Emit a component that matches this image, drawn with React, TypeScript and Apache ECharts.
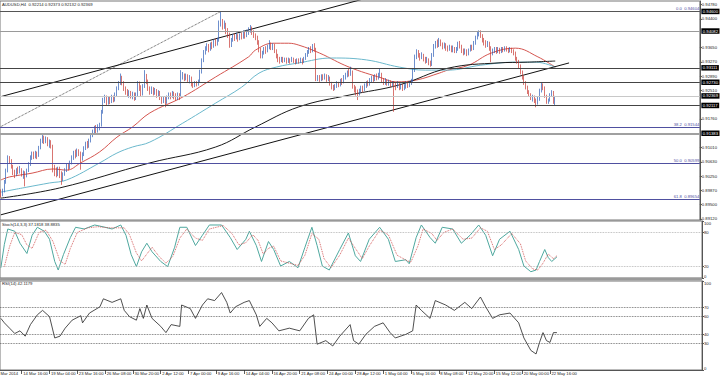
import React, { useEffect, useRef } from "react";
import * as echarts from "echarts";

const TITLE = "AUDUSD,H4  0.92214 0.92373 0.92132 0.92369";
const STOCH_TITLE = "Stoch(14,3,3) 37.1818 38.8835";
const RSI_TITLE = "RSI(14) 42.1179";
const FIRST_DATE = "Mar 2014";

// prices in pips (price * 10000); open of each bar = previous close
const FIRST_OPEN = 8982;
const closes = [
  8978,8985,9010,9040,9072,9066,9050,9035,9030,9040,
  9036,9042,9030,9034,9028,9040,9058,9072,9085,9078,
  9084,9080,9100,9118,9125,9118,9124,9110,9115,9104,
  9045,9040,9030,9045,9032,9020,9030,9040,9052,9048,
  9060,9072,9085,9080,9090,9086,9070,9082,9098,9110,
  9105,9118,9132,9140,9150,9146,9155,9160,9195,9225,
  9232,9220,9228,9222,9232,9226,9240,9256,9270,9285,
  9272,9258,9250,9240,9246,9236,9242,9232,9240,9270,
  9262,9240,9262,9290,9275,9258,9248,9256,9244,9252,
  9240,9246,9232,9225,9230,9220,9232,9240,9236,9244,
  9238,9230,9240,9236,9288,9292,9284,9290,9282,9286,
  9268,9264,9272,9268,9275,9300,9330,9352,9362,9370,
  9360,9372,9366,9380,9376,9384,9430,9436,9420,9426,
  9408,9400,9372,9385,9395,9390,9398,9388,9396,9392,
  9400,9396,9404,9410,9414,9405,9398,9392,9380,9360,
  9342,9350,9362,9356,9366,9372,9365,9370,9356,9342,
  9334,9330,9336,9330,9334,9328,9333,9328,9335,9330,
  9326,9332,9328,9333,9326,9336,9345,9352,9360,9356,
  9364,9360,9282,9286,9280,9288,9284,9290,9280,9286,
  9270,9260,9256,9264,9270,9264,9276,9272,9286,9292,
  9298,9294,9300,9262,9256,9248,9244,9252,9258,9254,
  9264,9272,9268,9278,9284,9280,9288,9284,9292,9296,
  9280,9272,9278,9270,9274,9266,9272,9268,9262,9270,
  9258,9264,9256,9262,9270,9264,9272,9278,9305,9340,
  9352,9345,9338,9346,9336,9330,9334,9324,9320,9345,
  9368,9375,9370,9382,9374,9366,9372,9364,9360,9368,
  9358,9364,9354,9362,9374,9368,9358,9350,9356,9348,
  9358,9366,9362,9376,9390,9398,9404,9396,9385,9378,
  9372,9376,9364,9350,9356,9362,9354,9360,9356,9362,
  9358,9364,9360,9356,9362,9356,9350,9336,9328,9316,
  9300,9286,9272,9260,9248,9240,9232,9236,9226,9220,
  9228,9250,9266,9260,9238,9222,9226,9238,9246,9221,
  9237,
];
const highs = [
  8990,8992,9015,9045,9080,9078,9070,9055,9042,9046,
  9050,9052,9046,9040,9038,9045,9062,9080,9090,9090,
  9092,9090,9105,9124,9135,9132,9130,9128,9122,9120,
  9108,9055,9048,9050,9050,9038,9035,9046,9058,9060,
  9066,9080,9092,9095,9098,9096,9090,9088,9104,9116,
  9118,9124,9138,9148,9158,9160,9162,9166,9200,9232,
  9240,9238,9236,9234,9240,9238,9246,9262,9276,9296,
  9290,9276,9262,9255,9252,9250,9248,9246,9246,9276,
  9275,9265,9268,9305,9295,9280,9262,9262,9260,9258,
  9255,9252,9250,9236,9236,9234,9238,9246,9246,9250,
  9248,9244,9246,9244,9305,9300,9296,9296,9294,9292,
  9288,9274,9276,9276,9280,9306,9336,9358,9368,9376,
  9374,9378,9380,9386,9388,9390,9436,9461,9440,9436,
  9430,9416,9404,9390,9400,9402,9404,9400,9402,9404,
  9410,9406,9412,9418,9424,9420,9410,9402,9396,9384,
  9364,9356,9366,9368,9372,9384,9378,9376,9374,9360,
  9348,9340,9340,9340,9338,9338,9338,9336,9340,9338,
  9334,9336,9336,9338,9336,9340,9350,9358,9366,9368,
  9374,9376,9364,9292,9292,9294,9294,9296,9294,9292,
  9288,9274,9266,9268,9276,9274,9282,9284,9292,9298,
  9304,9310,9314,9304,9266,9262,9254,9256,9264,9264,
  9270,9276,9278,9284,9290,9292,9294,9296,9298,9310,
  9298,9284,9284,9280,9280,9278,9276,9276,9272,9276,
  9272,9270,9268,9268,9276,9274,9276,9282,9310,9346,
  9360,9358,9350,9352,9348,9340,9340,9336,9330,9350,
  9374,9382,9386,9390,9386,9378,9378,9376,9370,9372,
  9370,9370,9366,9366,9380,9382,9372,9362,9362,9360,
  9362,9372,9372,9382,9396,9406,9410,9410,9400,9390,
  9384,9382,9380,9368,9362,9366,9366,9366,9364,9366,
  9366,9368,9368,9364,9366,9364,9360,9354,9340,9332,
  9320,9304,9290,9276,9264,9252,9244,9240,9238,9230,
  9234,9256,9272,9270,9262,9240,9230,9244,9252,9250,
  9237,
];
const lows = [
  8968,8972,8982,9005,9035,9058,9045,9028,9020,9025,
  9030,9032,9024,9018,8998,9022,9036,9052,9068,9070,
  9072,9070,9076,9096,9112,9110,9112,9104,9100,9098,
  9035,9025,9022,9025,9020,9002,9012,9026,9036,9040,
  9044,9056,9068,9072,9076,9078,9042,9066,9078,9094,
  9098,9100,9114,9128,9136,9138,9140,9146,9156,9190,
  9218,9212,9214,9215,9218,9220,9222,9236,9252,9266,
  9265,9250,9240,9234,9232,9230,9228,9224,9226,9236,
  9250,9235,9238,9258,9268,9250,9240,9242,9238,9240,
  9232,9234,9226,9216,9218,9207,9216,9228,9228,9232,
  9228,9224,9226,9226,9234,9280,9276,9278,9274,9270,
  9262,9258,9260,9262,9264,9272,9296,9326,9346,9356,
  9352,9356,9360,9364,9368,9370,9380,9420,9412,9414,
  9400,9390,9364,9366,9380,9382,9386,9380,9384,9386,
  9388,9388,9392,9398,9404,9398,9390,9384,9372,9352,
  9336,9336,9346,9348,9352,9360,9358,9358,9350,9336,
  9326,9322,9326,9324,9326,9322,9324,9322,9326,9324,
  9320,9322,9322,9324,9320,9324,9332,9340,9348,9350,
  9352,9354,9276,9276,9274,9276,9278,9280,9274,9276,
  9264,9254,9250,9252,9258,9260,9262,9266,9270,9280,
  9286,9288,9290,9256,9246,9238,9226,9238,9246,9246,
  9250,9258,9262,9264,9272,9274,9276,9278,9280,9286,
  9272,9266,9266,9264,9264,9260,9262,9195,9252,9258,
  9252,9254,9250,9252,9256,9258,9260,9266,9274,9300,
  9334,9338,9330,9334,9328,9322,9324,9318,9314,9316,
  9340,9362,9364,9366,9368,9360,9362,9356,9354,9356,
  9352,9352,9350,9350,9356,9362,9350,9344,9346,9342,
  9344,9354,9356,9358,9372,9386,9394,9390,9378,9370,
  9364,9366,9356,9326,9344,9350,9348,9350,9348,9350,
  9352,9354,9354,9350,9352,9350,9344,9330,9322,9310,
  9294,9280,9266,9254,9242,9234,9226,9222,9218,9207,
  9214,9224,9246,9252,9232,9216,9216,9222,9234,9216,
  9213,
];

// moving averages, [bar index, pips]
const redMA = [[0,9015],[5,9023],[18,9033],[30,9044],[38,9041],[46,9060],[57,9089],[67,9128],[76,9155],[86,9192],[105,9234],[124,9287],[143,9340],[147,9358],[157,9376],[166,9376],[172,9371],[184,9350],[201,9313],[220,9284],[228,9274],[240,9279],[253,9297],[258,9305],[270,9318],[283,9350],[297,9363],[310,9340],[320,9313]];
const tealMA = [[0,8983],[15,8996],[28,9007],[38,9015],[57,9060],[67,9086],[76,9102],[86,9115],[105,9165],[124,9218],[139,9260],[149,9297],[159,9313],[172,9324],[191,9337],[211,9332],[230,9313],[245,9305],[258,9305],[277,9318],[297,9326],[309,9326],[320,9313]];
const blackMA = [[0,8967],[34,8994],[86,9060],[124,9102],[147,9155],[172,9208],[201,9239],[230,9266],[258,9310],[287,9324],[304,9326],[320,9329]];

// trend lines, [bar index, pips]
const trendLower = [[0,8923],[328,9324]];
const trendUpper = [[0,9235],[220,9506]];
const trendDotted = [[0,9156],[127,9460]];

// horizontal levels
const hLevels = [0.946, 0.94082, 0.93111, 0.9273, 0.92369, 0.92117, 0.91383];
const fibPercents = [0.0, 38.2, 50.0, 61.8];
const fibPrices = [0.94604, 0.91544, 0.90599, 0.89654];

// stochastic [bar index, value]
const stochMain = [[0,18],[2,59],[4,86],[8,82],[11,61],[15,43],[18,75],[21,89],[25,82],[28,68],[31,29],[33,14],[36,41],[40,71],[43,89],[48,86],[54,93],[60,89],[64,86],[69,93],[72,75],[75,41],[78,20],[81,46],[84,61],[87,46],[92,29],[96,20],[100,54],[103,89],[107,89],[112,57],[116,75],[120,93],[127,93],[132,71],[136,50],[141,68],[143,82],[147,57],[150,29],[154,64],[157,50],[161,21],[166,29],[171,18],[175,54],[179,89],[182,57],[185,21],[189,14],[195,50],[200,79],[204,39],[207,29],[212,68],[218,89],[223,68],[227,29],[233,32],[235,25],[239,71],[242,93],[247,71],[250,61],[254,89],[260,86],[265,61],[270,75],[275,93],[279,75],[283,39],[287,68],[293,82],[298,50],[301,21],[305,11],[308,14],[310,29],[313,50],[315,36],[317,29],[320,37]];
const stochSignal = [[2,20],[5,55],[8,80],[12,76],[15,58],[18,52],[22,80],[26,84],[30,64],[34,30],[37,24],[40,52],[44,80],[50,88],[56,90],[62,88],[66,88],[71,88],[74,76],[78,44],[81,30],[84,42],[87,54],[91,38],[95,26],[99,38],[103,70],[107,86],[112,70],[116,66],[120,86],[128,92],[133,78],[137,58],[141,62],[145,76],[148,66],[151,42],[154,52],[157,56],[161,30],[166,26],[171,22],[175,40],[179,78],[183,68],[186,34],[190,18],[195,40],[200,70],[204,52],[208,34],[212,56],[218,84],[223,76],[228,40],[234,30],[236,28],[240,56],[243,86],[248,78],[251,66],[255,80],[260,86],[266,68],[271,70],[276,88],[280,82],[284,50],[288,58],[294,78],[299,60],[302,30],[306,16],[309,14],[312,26],[315,42],[318,34],[320,39]];
const rsi = [[0,58],[2,53],[5,47],[8,41],[11,44],[14,38],[17,51],[21,62],[24,67],[28,60],[31,36],[34,38],[37,47],[41,56],[46,61],[47,53],[51,64],[57,71],[59,80],[64,76],[69,80],[71,67],[74,60],[78,56],[80,69],[82,58],[84,73],[87,58],[92,49],[95,42],[98,51],[103,49],[104,73],[109,69],[112,58],[116,73],[119,80],[123,78],[127,87],[130,76],[132,64],[135,71],[140,76],[143,78],[147,62],[149,49],[153,58],[156,53],[160,44],[166,47],[172,44],[177,58],[180,62],[182,29],[187,33],[191,27],[195,38],[201,51],[203,33],[206,29],[210,40],[215,49],[220,53],[224,42],[227,36],[233,40],[237,44],[239,73],[242,67],[247,58],[250,78],[256,73],[261,67],[267,76],[271,69],[276,82],[279,71],[283,58],[287,62],[293,64],[298,53],[301,36],[305,22],[308,18],[310,31],[312,42],[314,33],[316,31],[318,42],[320,42]];

const stochLevels = [80, 20];
const rsiLevels = [70, 60, 40, 30];
const priceTicks = [0.9478, 0.944, 0.9365, 0.9327, 0.9289, 0.9251, 0.9176, 0.9101, 0.9063, 0.9025, 0.8987, 0.895, 0.8912];
const stochTicks = [0, 20, 80, 100];
const rsiTicks = [0, 30, 40, 60, 70, 100];
const xTickLabels = ["14 Mar 16:00","19 Mar 04:00","23 Mar 16:00","26 Mar 08:00","30 Mar 20:00","2 Apr 12:00","7 Apr 00:00","9 Apr 16:00","14 Apr 04:00","16 Apr 20:00","21 Apr 08:00","24 Apr 00:00","28 Apr 12:00","1 May 04:00","5 May 16:00","8 May 08:00","12 May 20:00","15 May 12:00","20 May 00:00","22 May 16:00"];
const LABEL_FIRST = 12;
const LABEL_STEP = 16;
const SLOTS = 404;

const FONT = "'Liberation Sans', Arial, sans-serif";
const FS = 4.2;
const BULL = "#2f5fb8";
const BEAR = "#c93a34";
const FIB = "#4f50a0";
const hColors = ["#555", "#9a9a9a", "#444", "#444", "#c8c8c8", "#444", "#a0a0a0"];
const hWidths = [1, 1, 1, 1, 1, 1, 2];

const P = (v: number) => v / 10000;

function buildOption() {
  const candles = closes.map((c, i) => {
    const o = i === 0 ? FIRST_OPEN : closes[i - 1];
    const h = Math.max(highs[i], o, c);
    const l = Math.min(lows[i], o, c);
    return [P(o), P(c), P(l), P(h)];
  });
  const cats = Array.from({ length: SLOTS }, (_, i) => String(i));
  const isLbl = (i: number) => i >= LABEL_FIRST && (i - LABEL_FIRST) % LABEL_STEP === 0 && (i - LABEL_FIRST) / LABEL_STEP < xTickLabels.length;
  const toP = (arr: number[][]) => arr.map(([i, v]) => [i, P(v)]);
  const grids = [
    { left: 0, right: 18, top: 1, height: 219 },
    { left: 0, right: 18, top: 221, height: 57 },
    { left: 0, right: 18, top: 281, height: 89 },
  ].map((g) => ({ ...g, show: true, borderColor: "#777", borderWidth: 1 }));
  const xAxes = [0, 1, 2].map((g) => ({
    type: "category",
    gridIndex: g,
    data: cats,
    boundaryGap: true,
    axisLine: { show: g === 2, lineStyle: { color: "#555", width: 1 } },
    axisTick: { show: g === 2, interval: (i: number) => isLbl(i), alignWithLabel: true, length: 4, lineStyle: { color: "#333", width: 0.8 } },
    axisLabel: {
      show: g === 2,
      interval: (i: number) => isLbl(i),
      formatter: (_v: string, i: number) => (isLbl(i) ? xTickLabels[(i - LABEL_FIRST) / LABEL_STEP] : ""),
      fontSize: FS, fontFamily: FONT, color: "#222", align: "left", margin: 1, padding: [0, 0, 0, 1.5],
    },
    splitLine: { show: false },
  }));
  const yBase = {
    type: "value", position: "right",
    axisLine: { show: true, lineStyle: { color: "#555", width: 1 } },
    splitLine: { show: false },
  };
  const yAxes = [
    {
      ...yBase, gridIndex: 0, min: 0.89093, max: 0.94875,
      axisTick: { show: true, length: 2, customValues: priceTicks, lineStyle: { color: "#555" } },
      axisLabel: { customValues: priceTicks, formatter: (v: number) => v.toFixed(5), fontSize: FS, fontFamily: FONT, color: "#222", margin: 2 },
    },
    {
      ...yBase, gridIndex: 1, min: 0, max: 100,
      axisTick: { show: true, length: 2, customValues: stochTicks, lineStyle: { color: "#555" } },
      axisLabel: { customValues: stochTicks, fontSize: FS, fontFamily: FONT, color: "#222", margin: 2, verticalAlignMaxLabel: "top", verticalAlignMinLabel: "bottom" },
    },
    {
      ...yBase, gridIndex: 2, min: 0, max: 100,
      axisTick: { show: true, length: 2, customValues: rsiTicks, lineStyle: { color: "#555" } },
      axisLabel: { customValues: rsiTicks, fontSize: FS, fontFamily: FONT, color: "#222", margin: 2, verticalAlignMaxLabel: "top", verticalAlignMinLabel: "bottom" },
    },
  ];
  const lineBase = { type: "line", symbol: "none", showSymbol: false, silent: true, z: 3 };
  const hMarks = hLevels.map((v, k) => ({
    yAxis: v,
    lineStyle: { color: hColors[k], width: hWidths[k], type: "solid" },
    label: {
      show: true, position: "end", distance: 1.5, formatter: v.toFixed(5),
      backgroundColor: "#000", color: "#fff", fontSize: FS, fontFamily: FONT, padding: [1, 1.5, 0.5, 1.5],
    },
  }));
  const fibMarks = fibPrices.map((v, k) => ({
    yAxis: v,
    lineStyle: { color: FIB, width: 1, type: "solid" },
    label: {
      show: true, position: "insideEndTop", distance: 0.5,
      formatter: `${fibPercents[k].toFixed(1)}  ${v.toFixed(5)}`,
      color: FIB, fontSize: FS, fontFamily: FONT,
    },
  }));
  const levelMarks = (levels: number[], color: string) => ({
    silent: true, symbol: ["none", "none"], precision: 4,
    data: levels.map((v) => ({ yAxis: v, lineStyle: { color, width: 0.8, type: "dotted" }, label: { show: false } })),
  });
  const closeLine = closes.map((c, i) => [i, P(c)]);
  const series: any[] = [
    {
      type: "line", xAxisIndex: 0, yAxisIndex: 0, data: closeLine, symbol: "none", showSymbol: false, silent: true, z: 1,
      lineStyle: { opacity: 0, width: 0 },
      markLine: { silent: true, symbol: ["none", "none"], precision: 6, data: [...fibMarks, ...hMarks] },
    },
    {
      type: "candlestick", xAxisIndex: 0, yAxisIndex: 0, data: candles, barWidth: 0.9, silent: true, z: 4,
      itemStyle: { color: BULL, color0: BEAR, borderColor: BULL, borderColor0: BEAR, borderWidth: 0.7 },
    },
    { ...lineBase, xAxisIndex: 0, yAxisIndex: 0, data: toP(redMA), smooth: 0.4, lineStyle: { color: "#d4554f", width: 1 } },
    { ...lineBase, xAxisIndex: 0, yAxisIndex: 0, data: toP(tealMA), smooth: 0.4, lineStyle: { color: "#6bb8cc", width: 1 } },
    { ...lineBase, xAxisIndex: 0, yAxisIndex: 0, data: toP(blackMA), smooth: 0.4, lineStyle: { color: "#1a1a1a", width: 1 } },
    { ...lineBase, xAxisIndex: 0, yAxisIndex: 0, data: toP(trendLower), lineStyle: { color: "#111", width: 1 } },
    { ...lineBase, xAxisIndex: 0, yAxisIndex: 0, data: toP(trendUpper), lineStyle: { color: "#111", width: 1 } },
    { ...lineBase, xAxisIndex: 0, yAxisIndex: 0, data: toP(trendDotted), lineStyle: { color: "#222", width: 0.8, type: "dotted" } },
    { ...lineBase, xAxisIndex: 1, yAxisIndex: 1, data: stochMain, lineStyle: { color: "#4fa89f", width: 1 }, markLine: levelMarks(stochLevels, "#aaa") },
    { ...lineBase, xAxisIndex: 1, yAxisIndex: 1, data: stochSignal, lineStyle: { color: "#d05050", width: 0.9, type: "dotted" } },
    { ...lineBase, xAxisIndex: 2, yAxisIndex: 2, data: rsi, lineStyle: { color: "#222", width: 0.8 }, markLine: levelMarks(rsiLevels, "#555") },
  ];
  const txt = (text: string, x: number, y: number) => ({
    type: "text", x, y, silent: true, z: 100,
    style: { text, fontSize: FS, fontFamily: FONT, fill: "#222", textVerticalAlign: "top" },
  });
  return {
    animation: false,
    backgroundColor: "#fff",
    grid: grids,
    xAxis: xAxes,
    yAxis: yAxes,
    series,
    graphic: [
      txt(TITLE, 2, 2.5),
      txt(STOCH_TITLE, 2, 222.5),
      txt(RSI_TITLE, 2, 281.5),
      txt(FIRST_DATE, 0.5, 371.5),
      { type: "rect", shape: { x: 0, y: 277.8, width: 702, height: 2.6 }, style: { fill: "#9a9a9a" }, silent: true, z: 50 },
    ],
  };
}

export default function App() {
  const ref = useRef<HTMLDivElement>(null);
  useEffect(() => {
    if (!ref.current) return;
    const chart = echarts.init(ref.current, undefined, { renderer: "svg" });
    chart.setOption(buildOption() as any);
    return () => chart.dispose();
  }, []);
  return <div ref={ref} style={{ position: "absolute", left: 0, top: 0, width: 720, height: 378 }} />;
}
